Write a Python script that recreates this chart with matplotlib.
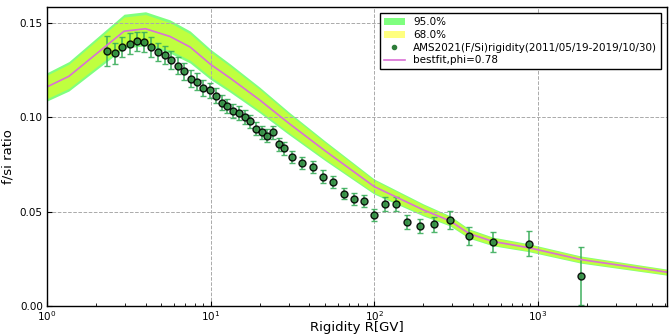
import numpy as np
import matplotlib.pyplot as plt
from matplotlib.lines import Line2D

# AMS F/Si data
rig = [2.34, 2.61, 2.89, 3.20, 3.54, 3.92, 4.33, 4.75, 5.25, 5.76, 6.30, 6.91,
       7.57, 8.27, 9.03, 9.89, 10.76, 11.71, 12.67, 13.79, 14.94, 16.19, 17.52,
       18.98, 20.56, 22.25, 24.12, 26.13, 28.15, 31.37, 36.43, 42.19, 48.97,
       56.4, 65.3, 75.5, 86.9, 100.4, 116.8, 135.8, 159.9, 191.1, 232.8, 291.5,
       379.6, 532.0, 879.0, 1837.0]
ratio = [0.1352, 0.1339, 0.1375, 0.1391, 0.1403, 0.1401, 0.1371, 0.1348, 0.1329,
         0.1304, 0.1275, 0.1246, 0.1206, 0.1190, 0.1158, 0.1143, 0.1116, 0.1079,
         0.1061, 0.1035, 0.1026, 0.1002, 0.0979, 0.0940, 0.0921, 0.0903, 0.0922,
         0.0857, 0.0836, 0.0792, 0.0760, 0.0736, 0.0687, 0.0658, 0.0597, 0.0569,
         0.0556, 0.0483, 0.0542, 0.0542, 0.0447, 0.0426, 0.0433, 0.0455, 0.0370,
         0.0340, 0.0331, 0.0161]
err = [0.0078, 0.0057, 0.0053, 0.0057, 0.0052, 0.0052, 0.0053, 0.0049, 0.0048,
       0.0047, 0.0046, 0.0045, 0.0044, 0.0043, 0.0042, 0.0041, 0.0040, 0.0040,
       0.0039, 0.0038, 0.0037, 0.0036, 0.0036, 0.0035, 0.0035, 0.0034, 0.0034,
       0.0033, 0.0033, 0.0032, 0.0031, 0.0031, 0.0032, 0.0032, 0.0028, 0.0031,
       0.0031, 0.0033, 0.0036, 0.0038, 0.0036, 0.0037, 0.0041, 0.0047, 0.0048,
       0.0053, 0.0067, 0.0154]

# model curve and bands
model_r = [1.0, 1.36, 2.96, 4.0, 5.65, 7.5, 10, 13.2, 20, 30, 50, 100, 200, 291,
           380, 532, 879, 1837, 6200]
best = [0.1162, 0.1218, 0.1457, 0.1470, 0.1429, 0.1373, 0.1281, 0.1208, 0.1092,
        0.0970, 0.0824, 0.0634, 0.0510, 0.0452, 0.0385, 0.0343, 0.0310, 0.0247,
        0.0180]
half95 = [0.0075, 0.0078, 0.0090, 0.0090, 0.0088, 0.0085, 0.0080, 0.0075, 0.0068,
          0.0060, 0.0052, 0.0040, 0.0032, 0.0027, 0.0025, 0.0023, 0.0021, 0.0019,
          0.0016]
half68 = [0.0062, 0.0064, 0.0075, 0.0075, 0.0073, 0.0070, 0.0066, 0.0062, 0.0056,
          0.0049, 0.0043, 0.0033, 0.0026, 0.0022, 0.0020, 0.0019, 0.0017, 0.0015,
          0.0013]

best = np.array(best)
half95 = np.array(half95)
half68 = np.array(half68)

fig = plt.figure(figsize=(6.72, 3.35), dpi=100)
ax = fig.add_axes([0.07, 0.086, 0.923, 0.893])

f95 = ax.fill_between(model_r, best - half95, best + half95, color='lime',
                      alpha=0.5, linewidth=0)
f68 = ax.fill_between(model_r, best - half68, best + half68, color='yellow',
                      alpha=0.5, linewidth=0)
ax.errorbar(rig, ratio, yerr=err, fmt='o', color='#3a9d4a', ecolor='#3cae5c',
            elinewidth=1.2, capsize=2.5, markersize=5, markerfacecolor='#2e8b3e',
            markeredgecolor='black', markeredgewidth=1.0, alpha=0.9)
bf, = ax.plot(model_r, best, color='orchid', linewidth=1.2)

ax.set_xscale('log')
ax.set_xlim(1, 6200)
ax.set_ylim(0, 0.1585)
ax.set_yticks([0.0, 0.05, 0.10, 0.15])
ax.set_yticklabels(['0.00', '0.05', '0.10', '0.15'])
ax.grid(True, which='major', linestyle='--', color='#aaaaaa', linewidth=0.7)
ax.tick_params(axis='both', which='both', direction='in', labelsize=7.5)
ax.tick_params(axis='x', pad=2)
ax.tick_params(axis='y', pad=3)
for s in ax.spines.values():
    s.set_linewidth(1.0)

ax.set_xlabel('Rigidity R[GV]', fontsize=9.5, labelpad=-1)
ax.set_ylabel('f/si ratio', fontsize=9.5, labelpad=4)

dot = Line2D([], [], marker='o', linestyle='', color='#2e7d3a', markersize=3)
leg = ax.legend([f95, f68, dot, bf],
                ['95.0%', '68.0%', 'AMS2021(F/Si)rigidity(2011/05/19-2019/10/30)',
                 'bestfit,phi=0.78'],
                loc='upper right', fontsize=7.5, fancybox=False,
                framealpha=1, edgecolor='black', borderaxespad=0.6,
                labelspacing=0.25)
leg.get_frame().set_linewidth(1.0)

plt.savefig('out.png', dpi=100)
